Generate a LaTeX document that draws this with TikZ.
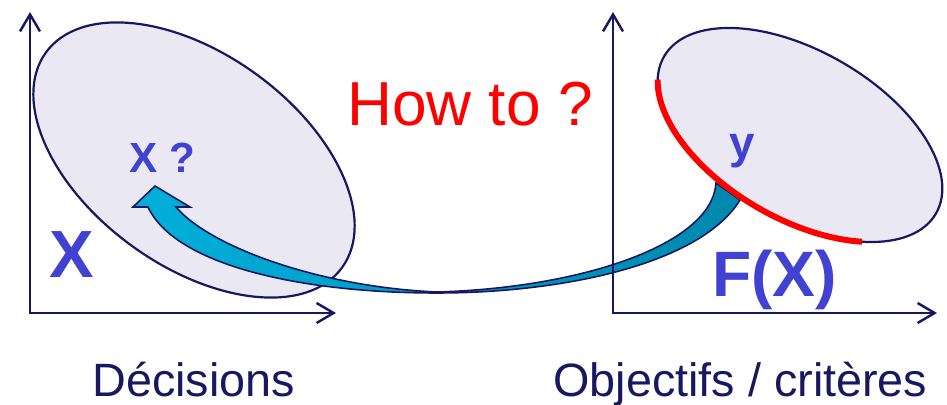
\documentclass[tikz,border=0pt]{standalone}
\usepackage{fontspec}
\setmainfont{Liberation Sans}
\usetikzlibrary{arrows.meta}
\definecolor{navy}{RGB}{24,24,96}
\definecolor{setfill}{RGB}{233,232,243}
\definecolor{setblue}{RGB}{65,65,210}
\definecolor{arrowlight}{RGB}{0,176,218}
\definecolor{arrowdark}{RGB}{0,136,174}

\begin{document}
\begin{tikzpicture}[x=0.02cm, y=0.02cm, >={Straight Barb[length=3.4mm,width=4mm]},
    axis/.style={navy, line width=1.4pt, <->},
    set/.style={draw=navy, fill=setfill, line width=1.25pt},
    lbl/.style={anchor=base west, inner sep=0pt, text=setblue, font=\bfseries\fontsize{#1}{#1}\selectfont},
    caption/.style={anchor=base west, inner sep=0pt, text=navy, font=\fontsize{26.6}{26.6}\selectfont}]
    \useasboundingbox (0,0) rectangle (947,405);

    % decision set and its image
    \draw[set, rotate around={-36:(194,245)}] (194,245) ellipse [x radius=183, y radius=106];
    \draw[set, rotate around={-30:(800,270)}] (800,270) ellipse [x radius=157, y radius=84];

    % the way back from y to x
    \path[draw=navy, line width=0.9pt, left color=arrowlight, right color=arrowdark]
        (155,219) -- (133,198) -- (148,198)
        .. controls (175,140) and (300,112) .. (437,112)
        .. controls (560,112) and (700,140) .. (740,205)
        -- (716,222)
        .. controls (712,160) and (580,117) .. (437,113)
        .. controls (320,118) and (210,158) .. (176,198)
        -- (190,198) -- cycle;

    % Pareto front
    \begin{scope}[shift={(800,270)}, rotate=-30]
        \draw[red, line width=3.4pt] (-164:157 and 84) arc[start angle=-164, end angle=-47, x radius=157, y radius=84];
    \end{scope}

    \draw[axis] (30,393) |- (336,92);
    \draw[axis] (613,393) |- (937,92);

    \node[lbl=38] (X) at (49,127) {X};
    \node[lbl=24] (xq) at (129,232) {X ?};
    \node[lbl=26] (y) at (729,246) {y};
    \node[lbl=36.5] (FX) at (712,108) {F(X)};
    \node[anchor=base west, inner sep=0pt, text=red, font=\fontsize{35.4}{35.4}\selectfont] (how) at (347,279) {How to ?};
    \node[caption] (dec) at (92,8) {Décisions};
    \node[caption] (obj) at (553,8) {Objectifs / critères};
\end{tikzpicture}
\end{document}
